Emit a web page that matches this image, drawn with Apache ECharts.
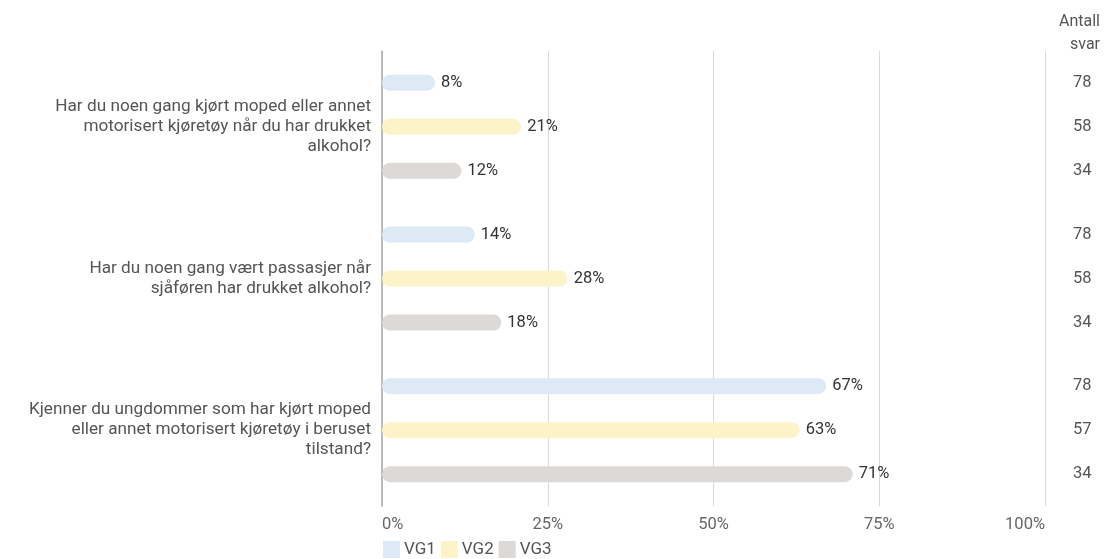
<!DOCTYPE html>
<html>
<head>
<meta charset="utf-8">
<script src="https://cdn.jsdelivr.net/npm/echarts@6/dist/echarts.min.js"></script>
<style>html,body{margin:0;padding:0;background:#fff}#c{width:1107px;height:559px}</style>
</head>
<body>
<div id="c"></div>
<script>
const categories = [
  "Har du noen gang kjørt moped eller annet\nmotorisert kjøretøy når du har drukket\nalkohol?",
  "Har du noen gang vært passasjer når\nsjåføren har drukket alkohol?",
  "Kjenner du ungdommer som har kjørt moped\neller annet motorisert kjøretøy i beruset\ntilstand?"
];
const seriesNames = ["VG1", "VG2", "VG3"];
const vg1 = [8, 14, 67];
const vg2 = [21, 28, 63];
const vg3 = [12, 18, 71];
const count1 = [78, 78, 78];
const count2 = [58, 58, 57];
const count3 = [34, 34, 34];
const xTicks = [0, 25, 50, 75, 100];
const colors = ["#dde9f5", "#fdf3c9", "#dcd9d7"];

const font = "Roboto, 'Noto Sans', sans-serif";
const values = [vg1, vg2, vg3];
const counts = [count1, count2, count3];

const series = [];
values.forEach((v, i) => {
  series.push({
    name: seriesNames[i], type: 'bar', yAxisIndex: 0, data: v,
    barWidth: 16, barGap: '175%',
    itemStyle: { color: colors[i], borderRadius: 8 },
    label: { show: true, position: 'right', distance: 6, formatter: '{c}%',
      color: '#333', fontSize: 16.5, fontFamily: font }
  });
});
counts.forEach((c, i) => {
  series.push({
    name: 'count' + i, type: 'bar', yAxisIndex: 1,
    data: c.map(n => ({ value: xTicks[xTicks.length - 1], count: n })),
    barWidth: 16, barGap: '175%', silent: true,
    itemStyle: { color: 'rgba(0,0,0,0)' },
    label: { show: true, position: 'right', distance: 28,
      formatter: p => String(p.data.count),
      color: '#555', fontSize: 16.5, fontFamily: font }
  });
});

const chart = echarts.init(document.getElementById('c'));
chart.setOption({
  animation: false,
  textStyle: { fontFamily: font },
  title: { text: 'Antall\nsvar', left: 1100, top: 10, padding: 0, textAlign: 'right',
    textStyle: { fontSize: 16, fontWeight: 'normal', color: '#555', lineHeight: 23, align: 'right', fontFamily: font } },
  legend: { data: seriesNames, left: 383, top: 541, padding: 0, itemWidth: 17, itemHeight: 17, itemGap: 5,
    icon: 'rect', textStyle: { fontSize: 17, color: '#555', fontFamily: font, padding: [0, 0, 0, -1] } },
  grid: { left: 382, right: 62, top: 51, bottom: 53, containLabel: false },
  xAxis: {
    type: 'value', min: 0, max: 100, interval: 25,
    axisLabel: { formatter: '{value}%', color: '#666', fontSize: 16.5, margin: 10, fontFamily: font,
      alignMinLabel: 'left', alignMaxLabel: 'right' },
    axisLine: { show: false }, axisTick: { show: false },
    splitLine: { lineStyle: { color: '#d9d9d9', width: 1 } }
  },
  yAxis: [{
    type: 'category', data: categories, inverse: true,
    axisLine: { show: true, lineStyle: { color: '#aaa', width: 1.5 } },
    axisTick: { show: false },
    axisLabel: { color: '#555', fontSize: 17.2, lineHeight: 20, margin: 11, align: 'right', fontFamily: font }
  }, {
    type: 'category', data: categories, inverse: true, show: false, position: 'left'
  }],
  series: series
});
</script>
</body>
</html>
